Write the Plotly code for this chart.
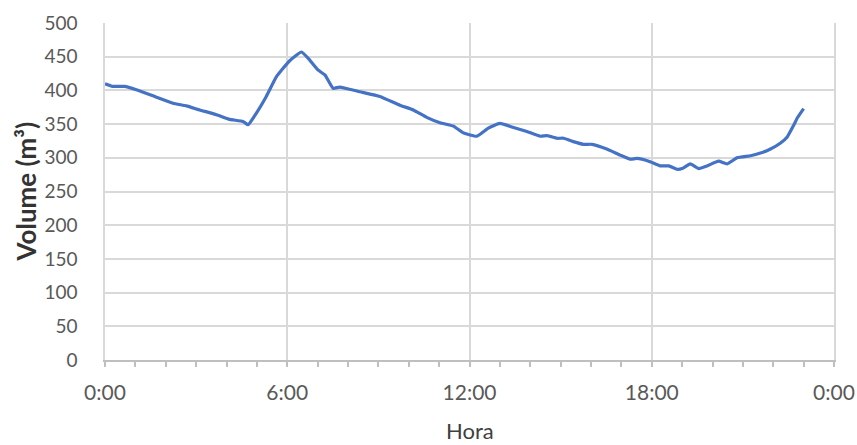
import plotly.graph_objects as go

# Hour of day (decimal hours) and reservoir volume (m³)
hours = [0.0, 0.25, 0.64, 1.03, 1.69, 2.24, 2.68, 3.12, 3.67, 4.10, 4.54, 4.71,
         4.98, 5.31, 5.64, 6.08, 6.47, 6.74, 7.02, 7.24, 7.51, 7.73, 8.39, 9.05,
         9.71, 10.15, 10.59, 11.03, 11.47, 11.80, 12.24, 12.62, 13.00, 13.45,
         13.89, 14.33, 14.55, 14.88, 15.10, 15.42, 15.75, 16.03, 16.52, 16.96,
         17.29, 17.51, 17.90, 18.28, 18.56, 18.83, 19.00, 19.27, 19.55, 19.82,
         20.20, 20.48, 20.81, 21.25, 21.58, 21.91, 22.24, 22.46, 22.68, 22.79,
         23.00]
volume = [410, 406, 406, 401, 390, 381, 377, 371, 364, 357, 354, 349,
          366, 391, 420, 444, 457, 445, 430, 423, 403, 405, 398, 391,
          378, 371, 360, 352, 347, 337, 332, 344, 351, 345,
          339, 332, 333, 329, 329, 324, 320, 320, 313, 304,
          298, 299, 295, 288, 288, 283, 284, 291, 284, 288,
          295, 291, 300, 303, 307, 313, 322, 331, 349, 359,
          373]

x_tickvals = [0, 6, 12, 18, 24]
x_ticktext = ["0:00", "6:00", "12:00", "18:00", "0:00"]
y_tickvals = list(range(0, 501, 50))
x_title = "Hora"
y_title = "<b>Volume (m³)</b>"

FONT = "Lato"
GRID = "#d9d9d9"
TEXT = "#595959"

fig = go.Figure()
fig.add_trace(go.Scatter(
    x=hours, y=volume, mode="lines",
    line=dict(color="#4472C4", width=3.2, shape="spline", smoothing=0.4),
    showlegend=False,
))

fig.update_layout(
    width=857, height=445,
    margin=dict(l=105, r=23, t=23, b=85, autoexpand=False),
    paper_bgcolor="white", plot_bgcolor="white",
    font=dict(family=FONT, color=TEXT, size=18),
    xaxis=dict(
        range=[0, 24], tickvals=x_tickvals, ticktext=x_ticktext,
        showgrid=True, gridcolor=GRID, gridwidth=1.5,
        showline=True, linecolor="#bfbfbf", linewidth=1.5,
        ticks="outside", ticklen=5, tickcolor="#bfbfbf", tickwidth=1.5,
        minor=dict(dtick=1, ticks="outside", ticklen=5, tickcolor="#bfbfbf",
                   tickwidth=1.5, showgrid=False),
        ticklabelstandoff=8,
        tickfont=dict(family=FONT, size=21, color=TEXT),
        zeroline=False, fixedrange=True, automargin=False,
    ),
    yaxis=dict(
        range=[0, 500], tickvals=y_tickvals,
        showgrid=True, gridcolor=GRID, gridwidth=1.5,
        showline=True, linecolor=GRID, linewidth=1.5, mirror=True,
        ticks="", ticklabelstandoff=22,
        tickfont=dict(family=FONT, size=19, color=TEXT),
        zeroline=False, fixedrange=True, automargin=False,
    ),
)

# Axis titles placed as paper annotations
fig.add_annotation(text=x_title, xref="paper", yref="paper", x=0.5, y=0,
                   yshift=-70, showarrow=False, yanchor="middle",
                   font=dict(family=FONT, size=22, color="#404040"))
fig.add_annotation(text=y_title, xref="paper", yref="paper", x=0, y=0.5,
                   xshift=-80, textangle=-90, showarrow=False,
                   xanchor="center", yanchor="middle",
                   font=dict(family=FONT, size=26, color="#333333"))

fig.write_html("out.html")
